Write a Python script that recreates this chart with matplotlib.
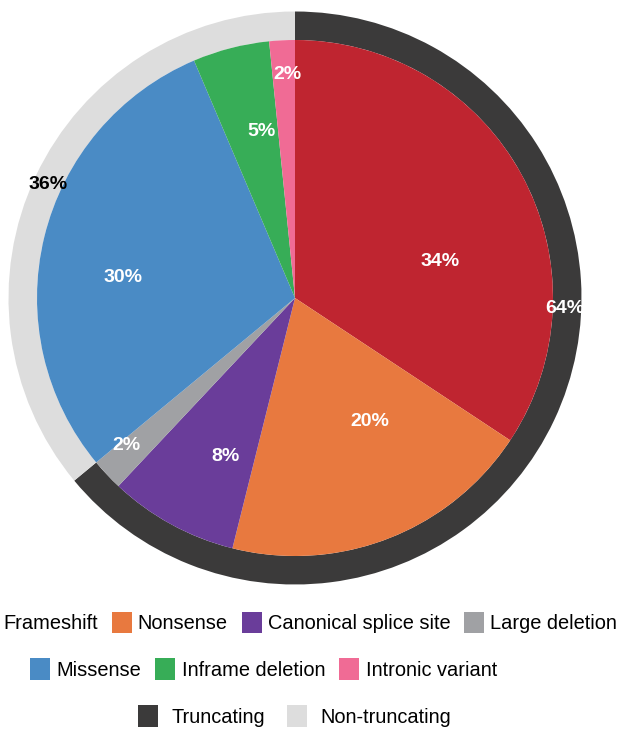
import numpy as np
import matplotlib.pyplot as plt
from matplotlib.patches import Patch

plt.rcParams['font.family'] = ['Liberation Sans', 'DejaVu Sans']

# variant subtypes (inner pie) and the two groups (outer ring)
subtypes = ['Frameshift', 'Nonsense', 'Canonical splice site', 'Large deletion',
            'Missense', 'Inframe deletion', 'Intronic variant']
subtype_pct = [34.3, 19.6, 8.1, 2.0, 29.6, 4.8, 1.6]
groups = ['Truncating', 'Non-truncating']
group_pct = [64.0, 36.0]

subtype_colors = ['#bf2530', '#e8793f', '#6a3d9a', '#a0a1a4',
                  '#4a8bc5', '#37ad57', '#f06b95']
group_colors = ['#3b3a3a', '#dddddd']

# label placement: radius (fraction of wedge radius) and angle nudge in degrees
inner_lab_r = [0.58, 0.56, 0.67, 0.87, 0.67, 0.66, 0.865]
inner_lab_da = [-14, 10, 5, -2, 7, -3, -1]
outer_lab_r = [0.942, 0.948]
outer_lab_da = [23, 0.5]
outer_lab_col = ['white', 'black']

W, H = 619, 729
fig = plt.figure(figsize=(W / 100, H / 100), dpi=100)
cx, cy, R = 295, 298, 286.5
ax = fig.add_axes([(cx - R) / W, 1 - (cy + R) / H, 2 * R / W, 2 * R / H])

r_in = 258 / R
edge = dict(edgecolor='none', linewidth=0)

outer, _ = ax.pie(group_pct, colors=group_colors, radius=1.0, startangle=90,
                  counterclock=False, wedgeprops=dict(width=1.0 - r_in, **edge))
inner, _ = ax.pie(subtype_pct, colors=subtype_colors, radius=r_in, startangle=90,
                  counterclock=False, wedgeprops=edge)

for w, v, rr, da in zip(inner, subtype_pct, inner_lab_r, inner_lab_da):
    a = np.deg2rad((w.theta1 + w.theta2) / 2 + da)
    ax.text(rr * r_in * np.cos(a), rr * r_in * np.sin(a), f'{v:.0f}%',
            ha='center', va='center', color='white', fontsize=14, fontweight='bold')

for w, v, rr, da, c in zip(outer, group_pct, outer_lab_r, outer_lab_da, outer_lab_col):
    a = np.deg2rad((w.theta1 + w.theta2) / 2 + da)
    ax.text(rr * np.cos(a), rr * np.sin(a), f'{v:.0f}%',
            ha='center', va='center', color=c, fontsize=14, fontweight='bold')

ax.set_xlim(-1, 1)
ax.set_ylim(-1, 1)
ax.set_aspect('equal')
ax.axis('off')


def legend_row(names, colors, x_px, y_px, pad, gap):
    handles = [Patch(facecolor=c, edgecolor='none') for c in colors]
    fig.legend(handles, names, loc='center left',
               bbox_to_anchor=(x_px / W, 1 - y_px / H), ncol=len(names),
               frameon=False, fontsize=14.4, handlelength=1.0, handleheight=1.27,
               handletextpad=pad, columnspacing=gap, borderpad=0, borderaxespad=0)


legend_row(subtypes[:4], subtype_colors[:4], -23, 622.5, 0.3, 0.7)
legend_row(subtypes[4:], subtype_colors[4:], 30, 669, 0.33, 0.7)
legend_row(groups, group_colors, 138, 716, 0.68, 1.1)

fig.savefig('out.png', dpi=100)
